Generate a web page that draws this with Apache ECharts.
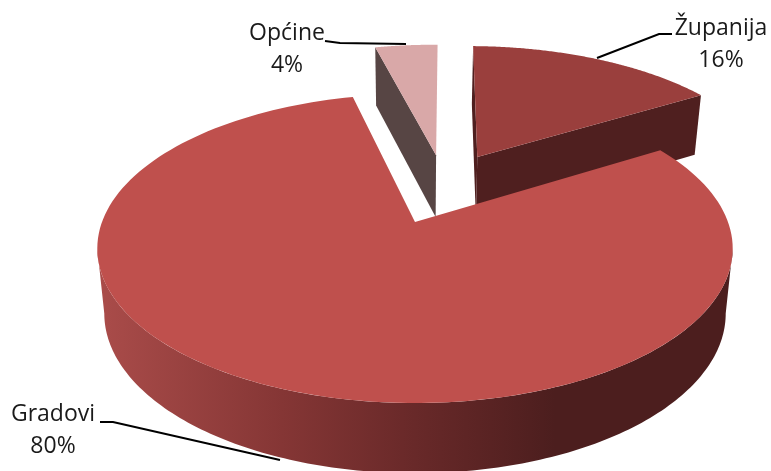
<!DOCTYPE html>
<html>
<head>
<meta charset="utf-8">
<style>
html,body{margin:0;padding:0;background:#fff;}
#main{width:771px;height:471px;}
</style>
<script src="https://cdn.jsdelivr.net/npm/echarts@6/dist/echarts.min.js"></script>
</head>
<body>
<div id="main"></div>
<script>
// data, clockwise from the first slice angle
var categories = ['Županija', 'Gradovi', 'Općine'];
var values = [16, 80, 4];

// slice looks
var firstSliceAngle = 1;
var topColors = ['#9a3f3d', '#bf504d', '#d9a8a8'];
var wallColors = ['#4f1f1f', '#4c1e1e', '#574544'];
var explodeU = [0.215, 0, 0.073];   // explosion in the pie plane
var explodeV = [0.468, 0, 0.482];
var drawOrder = [1, 3, 2];

// label layout
var labelX = [721, 53, 287];
var labelY = [44, 430, 49];
var leaderLines = [
	[[672, 34], [659, 34], [597, 58]],
	[[100, 422], [113, 422], [280, 460]],
	[[325, 41], [340, 43], [406, 44]]
];

// perspective of the pie plane
var cx = 415, cy = 222, f = 313, g = 150, k = 0.1715;
var baseDrop = 64, baseScaleX = 0.978, baseScaleY = 1.034;

function project(u, v, base) {
	var w = 1 + k * v;
	var x = f * u / w, y = -g * v / w;
	if (base) {
		return [cx + x * baseScaleX, cy + baseDrop + y * baseScaleY];
	}
	return [cx + x, cy + y];
}
function rim(i, deg, base) {
	var a = deg * Math.PI / 180;
	return project(explodeU[i] + Math.sin(a), explodeV[i] + Math.cos(a), base);
}
function arc(i, from, to, base) {
	var pts = [], n = 160;
	for (var s = 0; s <= n; s++) {
		pts.push(rim(i, from + (to - from) * s / n, base));
	}
	return pts;
}
function quad(a, b, c, d, color, z) {
	return {type: 'polygon', z2: z, shape: {points: [a, b, c, d]}, style: {fill: color}};
}

function renderSlice(params, api) {
	var i = params.dataIndex;
	var total = 0, start = 0;
	for (var j = 0; j < values.length; j++) {
		total += values[j];
		if (j < i) start += values[j];
	}
	var from = firstSliceAngle + start / total * 360;
	var to = from + api.value(1) / total * 360;
	var z = drawOrder[i] * 10;
	var apexTop = project(explodeU[i], explodeV[i], false);
	var apexBase = project(explodeU[i], explodeV[i], true);
	var children = [];

	if (i == 1) {
		// big slice only shows its round outer wall, between the two outline extremes
		var side = Math.acos(-k) * 180 / Math.PI;
		var wallGrad = new echarts.graphic.LinearGradient(0, 0, 1, 0, [
			{offset: 0, color: '#aa4c4a'},
			{offset: 0.29, color: '#853635'},
			{offset: 0.48, color: '#6b2a2a'},
			{offset: 0.72, color: '#4c1e1e'},
			{offset: 1, color: '#4c1e1e'}
		]);
		children.push({
			type: 'polygon',
			z2: z,
			shape: {points: arc(i, side, 360 - side, false).concat(arc(i, side, 360 - side, true).reverse())},
			style: {fill: wallGrad}
		});
	} else {
		// small slices show the cut faces
		children.push(quad(apexTop, rim(i, from, false), rim(i, from, true), apexBase, wallColors[i], z));
		if (i == 0) {
			children.push(quad(apexTop, rim(i, to, false), rim(i, to, true), apexBase, wallColors[i], z + 1));
		}
	}
	children.push({
		type: 'polygon',
		z2: z + 2,
		shape: {points: [apexTop].concat(arc(i, from, to, false))},
		style: {fill: topColors[i]}
	});
	children.push({
		type: 'polyline',
		z2: 50,
		shape: {points: leaderLines[i]},
		style: {stroke: '#000', lineWidth: 2, fill: null}
	});
	children.push({
		type: 'text',
		z2: 51,
		style: {
			x: labelX[i],
			y: labelY[i],
			text: categories[i] + '\n' + api.value(1) + '%',
			fill: '#1a1a1a',
			font: '23px "Open Sans"',
			lineHeight: 32,
			align: 'center',
			verticalAlign: 'middle'
		}
	});
	return {type: 'group', children: children};
}

var myChart = echarts.init(document.getElementById('main'));
var option = {
	animation: false,
	backgroundColor: '#fff',
	series: [{
		type: 'custom',
		coordinateSystem: 'none',
		renderItem: renderSlice,
		data: categories.map(function (c, i) {
			return {name: c, value: [i, values[i]]};
		})
	}]
};
myChart.setOption(option);
</script>
</body>
</html>
